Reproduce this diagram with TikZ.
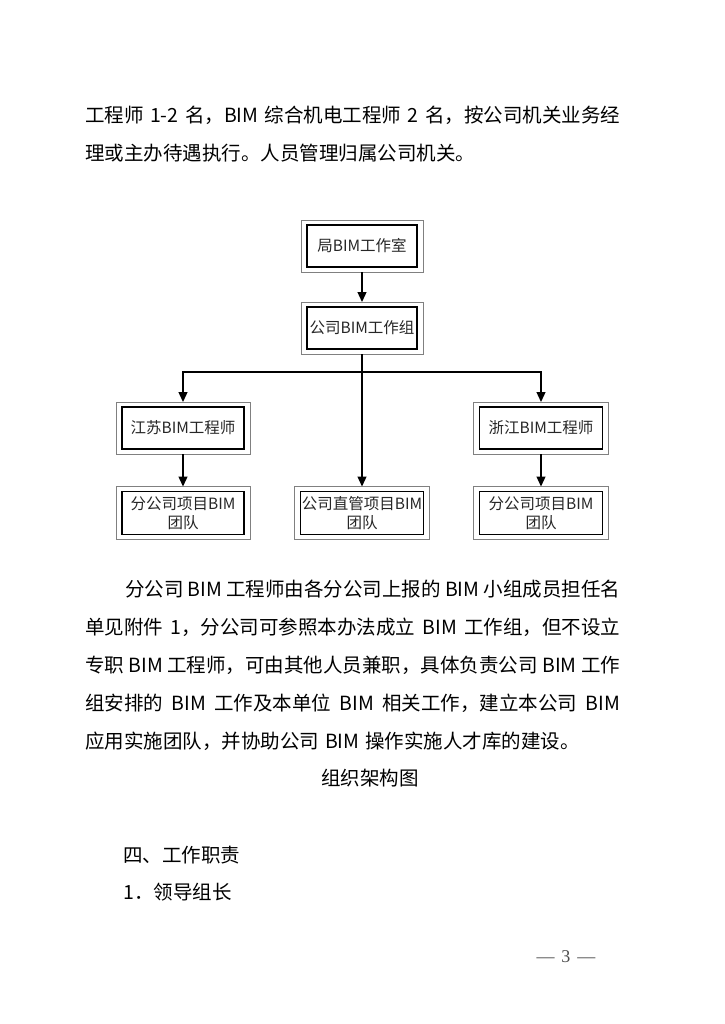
\documentclass[tikz,border=0pt]{standalone}
\usepackage{fontspec}
\setmainfont{Noto Sans CJK SC}
\newfontfamily\pagefont{Liberation Serif}
\usetikzlibrary{arrows.meta}
\newcommand\bodyfont{\fontsize{19.5}{24}\selectfont\spaceskip 0.3em plus 1em minus 0.1em\relax}
\newcommand\fullline[1]{\hbox to 535pt{#1}}

\tikzset{
	unit/.style={draw,line width=1.3pt,inner sep=1pt,outer xsep=6pt,outer ysep=5pt,minimum height=42pt,align=center,text=black!85,font=\fontsize{15.5}{19}\selectfont},
	frame/.style={draw=gray,line width=0.7pt},
	link/.style={line width=1.3pt,-{Triangle[length=10pt,width=9pt]}},
	body/.style={anchor=west,inner sep=0pt,font=\bodyfont}
}

\begin{document}
\begin{tikzpicture}[x=1pt,y=-1pt]
	\useasboundingbox (0,0) rectangle (724,1024);
	\node[body] (l1) at (85,115) {\fullline{工程师 1-2 名，BIM 综合机电工程师 2 名，按公司机关业务经}};
	\node[body] (l2) at (85,153) {理或主办待遇执行。人员管理归属公司机关。};
	% chart
	\node[unit,minimum width=110pt] (ju) at (362,246) {局BIM工作室};
	\node[unit,minimum width=110pt] (gongsi) at (362,328) {公司BIM工作组};
	\node[unit,minimum width=122pt] (jiangsu) at (183,428) {江苏BIM工程师};
	\node[unit,minimum width=123pt] (zhejiang) at (541,428) {浙江BIM工程师};
	\node[unit,minimum width=122pt,minimum height=43pt] (team1) at (183,513) {分公司项目BIM\\团队};
	\node[unit,minimum width=122pt,minimum height=43pt] (team2) at (362,513) {公司直管项目BIM\\团队};
	\node[unit,minimum width=123pt,minimum height=43pt] (team3) at (541,513) {分公司项目BIM\\团队};
	\foreach \n in {ju,gongsi,jiangsu,zhejiang,team1,team2,team3}
		\draw[frame] (\n.south west) rectangle (\n.north east);
	\coordinate (fork) at (362,372);
	\draw[link] (ju) -- (gongsi);
	\draw[link] (gongsi) -- (team2);
	\draw[link] (fork) -| (jiangsu);
	\draw[link] (fork) -| (zhejiang);
	\draw[link] (jiangsu) -- (team1);
	\draw[link] (zhejiang) -- (team3);
	% text below
	\node[body] (p1) at (125,589) {\hbox to 495pt{分公司 BIM 工程师由各分公司上报的 BIM 小组成员担任名}};
	\node[body] (p2) at (85,627) {\fullline{单见附件 1，分公司可参照本办法成立 BIM 工作组，但不设立}};
	\node[body] (p3) at (85,665) {\fullline{专职 BIM 工程师，可由其他人员兼职，具体负责公司 BIM 工作}};
	\node[body] (p4) at (85,703) {\fullline{组安排的 BIM 工作及本单位 BIM 相关工作，建立本公司 BIM}};
	\node[body] (p5) at (85,741) {应用实施团队，并协助公司 BIM 操作实施人才库的建设。};
	\node[body,anchor=center] (cap) at (370,778) {组织架构图};
	\node[body] (sec) at (123,855) {四、工作职责};
	\node[body] (sub) at (123,892) {1．领导组长};
	\node[font=\pagefont\fontsize{18}{20}\selectfont,text=black!70] (pg) at (566,957) {—\hspace{7pt}3\hspace{7pt}—};
\end{tikzpicture}
\end{document}
